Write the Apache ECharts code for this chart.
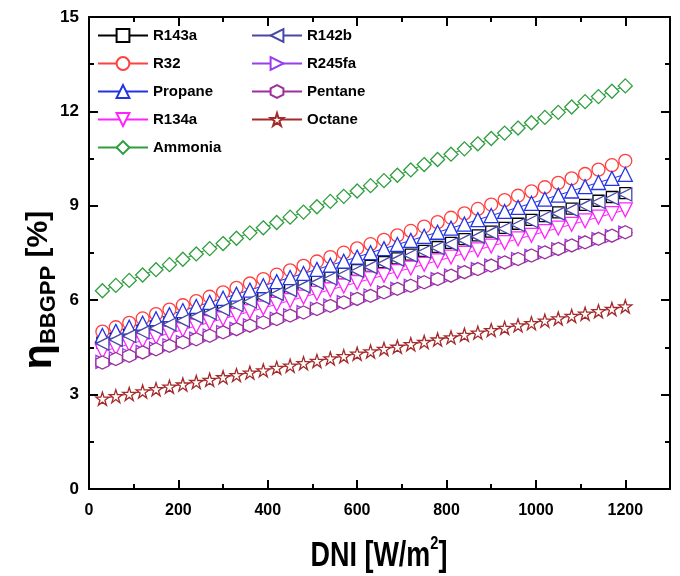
<!DOCTYPE html>
<html>
<head>
<meta charset="utf-8">
<script src="https://cdn.jsdelivr.net/npm/echarts@6/dist/echarts.min.js"></script>
<style>html,body{margin:0;padding:0;background:#fff}#c{width:680px;height:576px}</style>
</head>
<body>
<div id="c"></div>
<script>
const dni = [30,60,90,120,150,180,210,240,270,300,330,360,390,420,450,480,510,540,570,600,630,660,690,720,750,780,810,840,870,900,930,960,990,1020,1050,1080,1110,1140,1170,1200];
const r143a = [4.65,4.77,4.89,5.02,5.14,5.26,5.38,5.50,5.62,5.75,5.87,5.99,6.11,6.23,6.36,6.48,6.60,6.72,6.84,6.96,7.09,7.21,7.33,7.45,7.57,7.69,7.82,7.94,8.06,8.18,8.30,8.43,8.55,8.67,8.79,8.91,9.03,9.16,9.28,9.40];
const r32 = [5.00,5.14,5.28,5.42,5.56,5.70,5.84,5.97,6.11,6.25,6.39,6.53,6.67,6.81,6.95,7.09,7.23,7.37,7.51,7.65,7.78,7.92,8.06,8.20,8.34,8.48,8.62,8.76,8.90,9.04,9.18,9.32,9.46,9.59,9.73,9.87,10.01,10.15,10.29,10.43];
const propane = [4.88,5.01,5.14,5.27,5.41,5.54,5.67,5.80,5.93,6.06,6.19,6.32,6.46,6.59,6.72,6.85,6.98,7.11,7.24,7.37,7.51,7.64,7.77,7.90,8.03,8.16,8.29,8.42,8.56,8.69,8.82,8.95,9.08,9.21,9.34,9.47,9.61,9.74,9.87,10.00];
const r134a = [4.37,4.49,4.60,4.72,4.83,4.95,5.06,5.18,5.29,5.41,5.52,5.64,5.75,5.87,5.99,6.10,6.22,6.33,6.45,6.56,6.68,6.79,6.91,7.02,7.14,7.25,7.37,7.49,7.60,7.72,7.83,7.95,8.06,8.18,8.29,8.41,8.52,8.64,8.75,8.87];
const ammonia = [6.30,6.47,6.63,6.80,6.97,7.13,7.30,7.47,7.64,7.80,7.97,8.14,8.30,8.47,8.64,8.80,8.97,9.14,9.30,9.47,9.64,9.80,9.97,10.14,10.31,10.47,10.64,10.81,10.97,11.14,11.31,11.47,11.64,11.81,11.97,12.14,12.31,12.47,12.64,12.81];
const r142b = [4.62,4.74,4.86,4.98,5.11,5.23,5.35,5.47,5.59,5.71,5.84,5.96,6.08,6.20,6.32,6.44,6.56,6.69,6.81,6.93,7.05,7.17,7.29,7.42,7.54,7.66,7.78,7.90,8.02,8.14,8.27,8.39,8.51,8.63,8.75,8.87,9.00,9.12,9.24,9.36];
const r245fa = [4.04,4.15,4.25,4.36,4.46,4.57,4.67,4.78,4.88,4.99,5.09,5.20,5.30,5.41,5.52,5.62,5.73,5.83,5.94,6.04,6.15,6.25,6.36,6.46,6.57,6.67,6.78,6.89,6.99,7.10,7.20,7.31,7.41,7.52,7.62,7.73,7.83,7.94,8.04,8.15];
const pentane = [4.02,4.13,4.23,4.34,4.44,4.55,4.66,4.76,4.87,4.98,5.08,5.19,5.29,5.40,5.51,5.61,5.72,5.82,5.93,6.04,6.14,6.25,6.36,6.46,6.57,6.67,6.78,6.89,6.99,7.10,7.20,7.31,7.42,7.52,7.63,7.74,7.84,7.95,8.05,8.16];
const octane = [2.87,2.95,3.02,3.10,3.17,3.25,3.32,3.40,3.47,3.55,3.62,3.70,3.77,3.85,3.92,4.00,4.07,4.15,4.22,4.30,4.37,4.45,4.52,4.60,4.67,4.75,4.82,4.90,4.97,5.05,5.12,5.20,5.27,5.35,5.42,5.50,5.57,5.65,5.72,5.80];
const xTicks = [0,200,400,600,800,1000,1200];
const yTicks = [0,3,6,9,12,15];
const legendCol1 = ['R143a','R32','Propane','R134a','Ammonia'];
const legendCol2 = ['R142b','R245fa','Pentane','Octane'];

const FONT = "'Liberation Sans',Arial,sans-serif";
const P = {
  down: 'path://M0,0 L10,0 L5,9 Z',
  up: 'path://M5,0 L10,9 L0,9 Z',
  left: 'path://M9,0 L9,10 L0,5 Z',
  right: 'path://M0,0 L0,10 L9,5 Z',
  hex: 'path://M5,0 L9.33,2.5 L9.33,7.5 L5,10 L0.67,7.5 L0.67,2.5 Z',
  star: 'path://M10,0 L12.25,6.91 L19.51,6.91 L13.63,11.18 L15.88,18.09 L10,13.82 L4.12,18.09 L6.37,11.18 L0.49,6.91 L7.75,6.91 Z'
};
const defs = [
  {name:'R143a', vals:r143a, color:'#000000', symbol:'rect', size:11},
  {name:'R32', vals:r32, color:'#ff4040', symbol:'circle', size:13},
  {name:'Propane', vals:propane, color:'#2233e6', symbol:P.up, size:14},
  {name:'R134a', vals:r134a, color:'#ff22ff', symbol:P.down, size:14},
  {name:'Ammonia', vals:ammonia, color:'#2e9e3e', symbol:'diamond', size:14},
  {name:'R142b', vals:r142b, color:'#4848a8', symbol:P.left, size:13},
  {name:'R245fa', vals:r245fa, color:'#9a3cf0', symbol:P.right, size:13},
  {name:'Pentane', vals:pentane, color:'#9b2f9b', symbol:P.hex, size:13},
  {name:'Octane', vals:octane, color:'#a52a2a', symbol:P.star, size:13}
];
const series = defs.map(d => ({
  name: d.name, type: 'line', xAxisIndex: 0, yAxisIndex: 0,
  data: dni.map((x, i) => [x, d.vals[i]]),
  symbol: d.symbol, symbolSize: d.size, showAllSymbol: true,
  color: d.color,
  lineStyle: {color: d.color, width: 1},
  itemStyle: {color: '#ffffff', borderColor: d.color, borderWidth: 1.3},
  emphasis: {disabled: true},
  animation: false
}));

const lbl = {fontFamily: FONT, fontWeight: 'bold', fontSize: 16, color: '#000'};
function xAx(pos, interval, major, labels) {
  return {
    type: 'value', position: pos, min: 0, max: 1300, interval: interval,
    axisLine: {show: major, onZero: false, lineStyle: {color: '#000', width: 2}},
    axisTick: {show: true, inside: true, length: major ? 9 : 5, lineStyle: {color: '#000', width: 2}},
    axisLabel: labels ? Object.assign({show: true, margin: 14, formatter: v => xTicks.includes(v) ? String(v) : ''}, lbl) : {show: false},
    splitLine: {show: false}
  };
}
function yAx(pos, labels) {
  return {
    type: 'value', position: pos, min: 0, max: 15, interval: 3,
    axisLine: {show: true, onZero: false, lineStyle: {color: '#000', width: 2}},
    axisTick: {show: true, inside: true, length: 9, lineStyle: {color: '#000', width: 2}},
    minorTick: {show: true, splitNumber: 2, length: 5, lineStyle: {color: '#000', width: 2}},
    axisLabel: labels ? Object.assign({show: true, margin: 10, formatter: v => yTicks.includes(v) ? String(v) : ''}, lbl, {fontSize: 17}) : {show: false},
    splitLine: {show: false}, minorSplitLine: {show: false}
  };
}
const legendBase = {
  orient: 'vertical', itemWidth: 50, itemHeight: 16, itemGap: 13, padding: 0,
  textStyle: {fontFamily: FONT, fontWeight: 'bold', fontSize: 15, color: '#000'},
  selectedMode: false
};
const chart = echarts.init(document.getElementById('c'), null, {renderer: 'canvas'});
chart.setOption({
  animation: false,
  backgroundColor: '#fff',
  grid: {left: 89, right: 10, top: 17, bottom: 87, containLabel: false},
  xAxis: [xAx('bottom', 200, true, true), xAx('bottom', 100, false, false), xAx('top', 200, true, false), xAx('top', 100, false, false)],
  yAxis: [yAx('left', true), yAx('right', false)],
  legend: [
    Object.assign({}, legendBase, {data: legendCol1, left: 97, top: 28}),
    Object.assign({}, legendBase, {data: legendCol2, left: 251, top: 28})
  ],
  graphic: [
    {type: 'text', x: 38, y: 290, rotation: Math.PI / 2,
     style: {text: '{a|η}{b|BBGPP}{c| [%]}', align: 'center', verticalAlign: 'middle',
       rich: {
         a: {fontFamily: FONT, fontSize: 41, fontWeight: 'bold', fill: '#000', verticalAlign: 'bottom', lineHeight: 44},
         b: {fontFamily: FONT, fontSize: 22, fontWeight: 'bold', fill: '#000', verticalAlign: 'bottom', lineHeight: 44, padding: [16, 0, 0, 0]},
         c: {fontFamily: FONT, fontSize: 30, fontWeight: 'bold', fill: '#000', verticalAlign: 'bottom', lineHeight: 44, padding: [0, 0, 6, 0]}
       }}},
    {type: 'text', x: 379, y: 554, scaleX: 0.77,
     style: {text: '{a|DNI [W/m}{s|2}{a|]}', align: 'center', verticalAlign: 'middle',
       rich: {
         a: {fontFamily: FONT, fontSize: 35, fontWeight: 'bold', fill: '#000', verticalAlign: 'bottom', lineHeight: 40},
         s: {fontFamily: FONT, fontSize: 19, fontWeight: 'bold', fill: '#000', verticalAlign: 'top', lineHeight: 40}
       }}}
  ],
  series: series
});
</script>
</body>
</html>
